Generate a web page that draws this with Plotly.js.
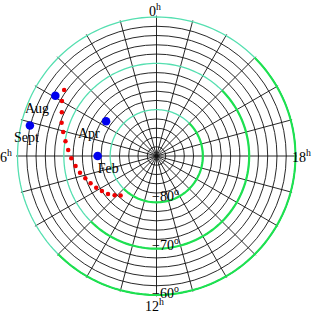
<!DOCTYPE html>
<html>
<head>
<meta charset="utf-8">
<script src="https://cdn.plot.ly/plotly-3.0.1.min.js"></script>
<style>html,body{margin:0;padding:0;background:#fff;}#chart{width:313px;height:313px;}</style>
</head>
<body>
<div id="chart"></div>
<script>
// ---- data (RA in hours, Dec in degrees) ----
var pathRA  = [3.63, 3.99, 4.35, 4.71, 5.04, 5.39, 5.74, 6.10, 6.47, 6.82, 7.16, 7.50, 7.85, 8.18, 8.54, 8.88, 9.18];
var pathDec = [-65.5, -66.4, -67.5, -68.3, -69.2, -70.1, -70.9, -71.6, -72.4, -73.1, -73.9, -74.6, -75.3, -76.0, -76.7, -77.6, -78.5];

var monthNames = ['Aug', 'Sept', 'Apr', 'Feb'];
var monthRA    = [3.95, 5.10, 3.70, 6.00];
var monthDec   = [-64.6, -61.9, -76.8, -77.3];

var hourLabels = ['0', '6', '12', '18'];
var decLabels  = [-80, -70, -60];

// ---- layout helpers ----
var monthTextPos = ['bottom left', 'bottom center', 'bottom left', 'bottom center'];
var padL = [0, 0, 0, 3], padR = [0, 1, 0, 0];   // en-space padding to nudge labels
function pad(n) { return new Array(n + 1).join('\u2002'); }
var monthText = monthNames.map(function (m, i) { return pad(padL[i]) + m + pad(padR[i]); });

function toDeg(h) { return h * 15; }
var W = 313, H = 313;
var CX = 156.5, CY = 156, R60 = 139;          // pixel centre and radius of the -60 circle
var rMin = -90, rMax = -59.7;
var Rpx = R60 * (rMax - rMin) / 30;
function px(x) { return x / W; }
function py(y) { return 1 - y / H; }

function circle(dec, fromDeg, toDegA) {
  var th = [], r = [];
  for (var a = fromDeg; a <= toDegA + 0.001; a += 2) { th.push(a); r.push(dec); }
  return {th: th, r: r};
}

var traces = [];
decLabels.forEach(function (d) {
  var c = circle(d, 0, 360);
  traces.push({type: 'scatterpolar', mode: 'lines', r: c.r, theta: c.th,
    line: {color: '#55dfb0', width: 1.3}, hoverinfo: 'skip', showlegend: false});
  var h = circle(d, 135, 315);
  traces.push({type: 'scatterpolar', mode: 'lines', r: h.r, theta: h.th,
    line: {color: '#1ee050', width: 2.2}, hoverinfo: 'skip', showlegend: false});
});

traces.push({
  type: 'scatterpolar', mode: 'markers',
  r: pathDec, theta: pathRA.map(toDeg),
  marker: {color: '#ee0000', size: 4.5}, showlegend: false
});
traces.push({
  type: 'scatterpolar', mode: 'markers+text', cliponaxis: false,
  r: monthDec, theta: monthRA.map(toDeg),
  text: monthText, textposition: monthTextPos,
  textfont: {family: 'Liberation Serif', size: 14, color: '#000'},
  marker: {color: '#0000ee', size: 8.5}, showlegend: false
});

var spokes = [];
for (var i = 0; i < 24; i++) { spokes.push(i * 15); }
var ringVals = [];
for (var v = -88; v < -60; v += 2) { if (v % 10 !== 0) ringVals.push(v); }

var annotations = [];
var hourPos = [[154.5, 9.5], [6, 156], [154, 304.5], [301, 156]];
hourLabels.forEach(function (t, i) {
  annotations.push({text: t + '<sup>h</sup>', x: px(hourPos[i][0]), y: py(hourPos[i][1]),
    xref: 'paper', yref: 'paper', xanchor: 'center', yanchor: 'middle', showarrow: false,
    font: {family: 'Liberation Serif', size: 14, color: '#000'}});
});
var decPos = [[165.5, 195.5], [165.5, 244], [165.5, 291.5]];
decLabels.forEach(function (d, i) {
  annotations.push({text: '\u2212' + Math.abs(d) + '<sup>o</sup>', x: px(decPos[i][0]), y: py(decPos[i][1]),
    xref: 'paper', yref: 'paper', xanchor: 'center', yanchor: 'middle', showarrow: false,
    font: {family: 'Liberation Serif', size: 14, color: '#000'}});
});

var layout = {
  width: W, height: H,
  margin: {l: 0, r: 0, t: 0, b: 0, pad: 0},
  paper_bgcolor: '#fff', plot_bgcolor: '#fff',
  font: {family: 'Liberation Serif', size: 14, color: '#000'},
  showlegend: false,
  polar: {
    domain: {x: [(CX - Rpx) / W, (CX + Rpx) / W], y: [1 - (CY + Rpx) / H, 1 - (CY - Rpx) / H]},
    bgcolor: 'rgba(0,0,0,0)',
    hole: 0,
    radialaxis: {range: [rMin, rMax], tickmode: 'array', tickvals: ringVals,
      showticklabels: false, ticks: '', showline: false,
      gridcolor: '#111', gridwidth: 0.9},
    angularaxis: {rotation: 90, direction: 'counterclockwise', thetaunit: 'degrees',
      tickmode: 'array', tickvals: spokes, showticklabels: false, ticks: '',
      showline: false, gridcolor: '#111', gridwidth: 0.9}
  },
  annotations: annotations
};

Plotly.newPlot('chart', traces, layout, {displayModeBar: false, staticPlot: true});
</script>
</body>
</html>
